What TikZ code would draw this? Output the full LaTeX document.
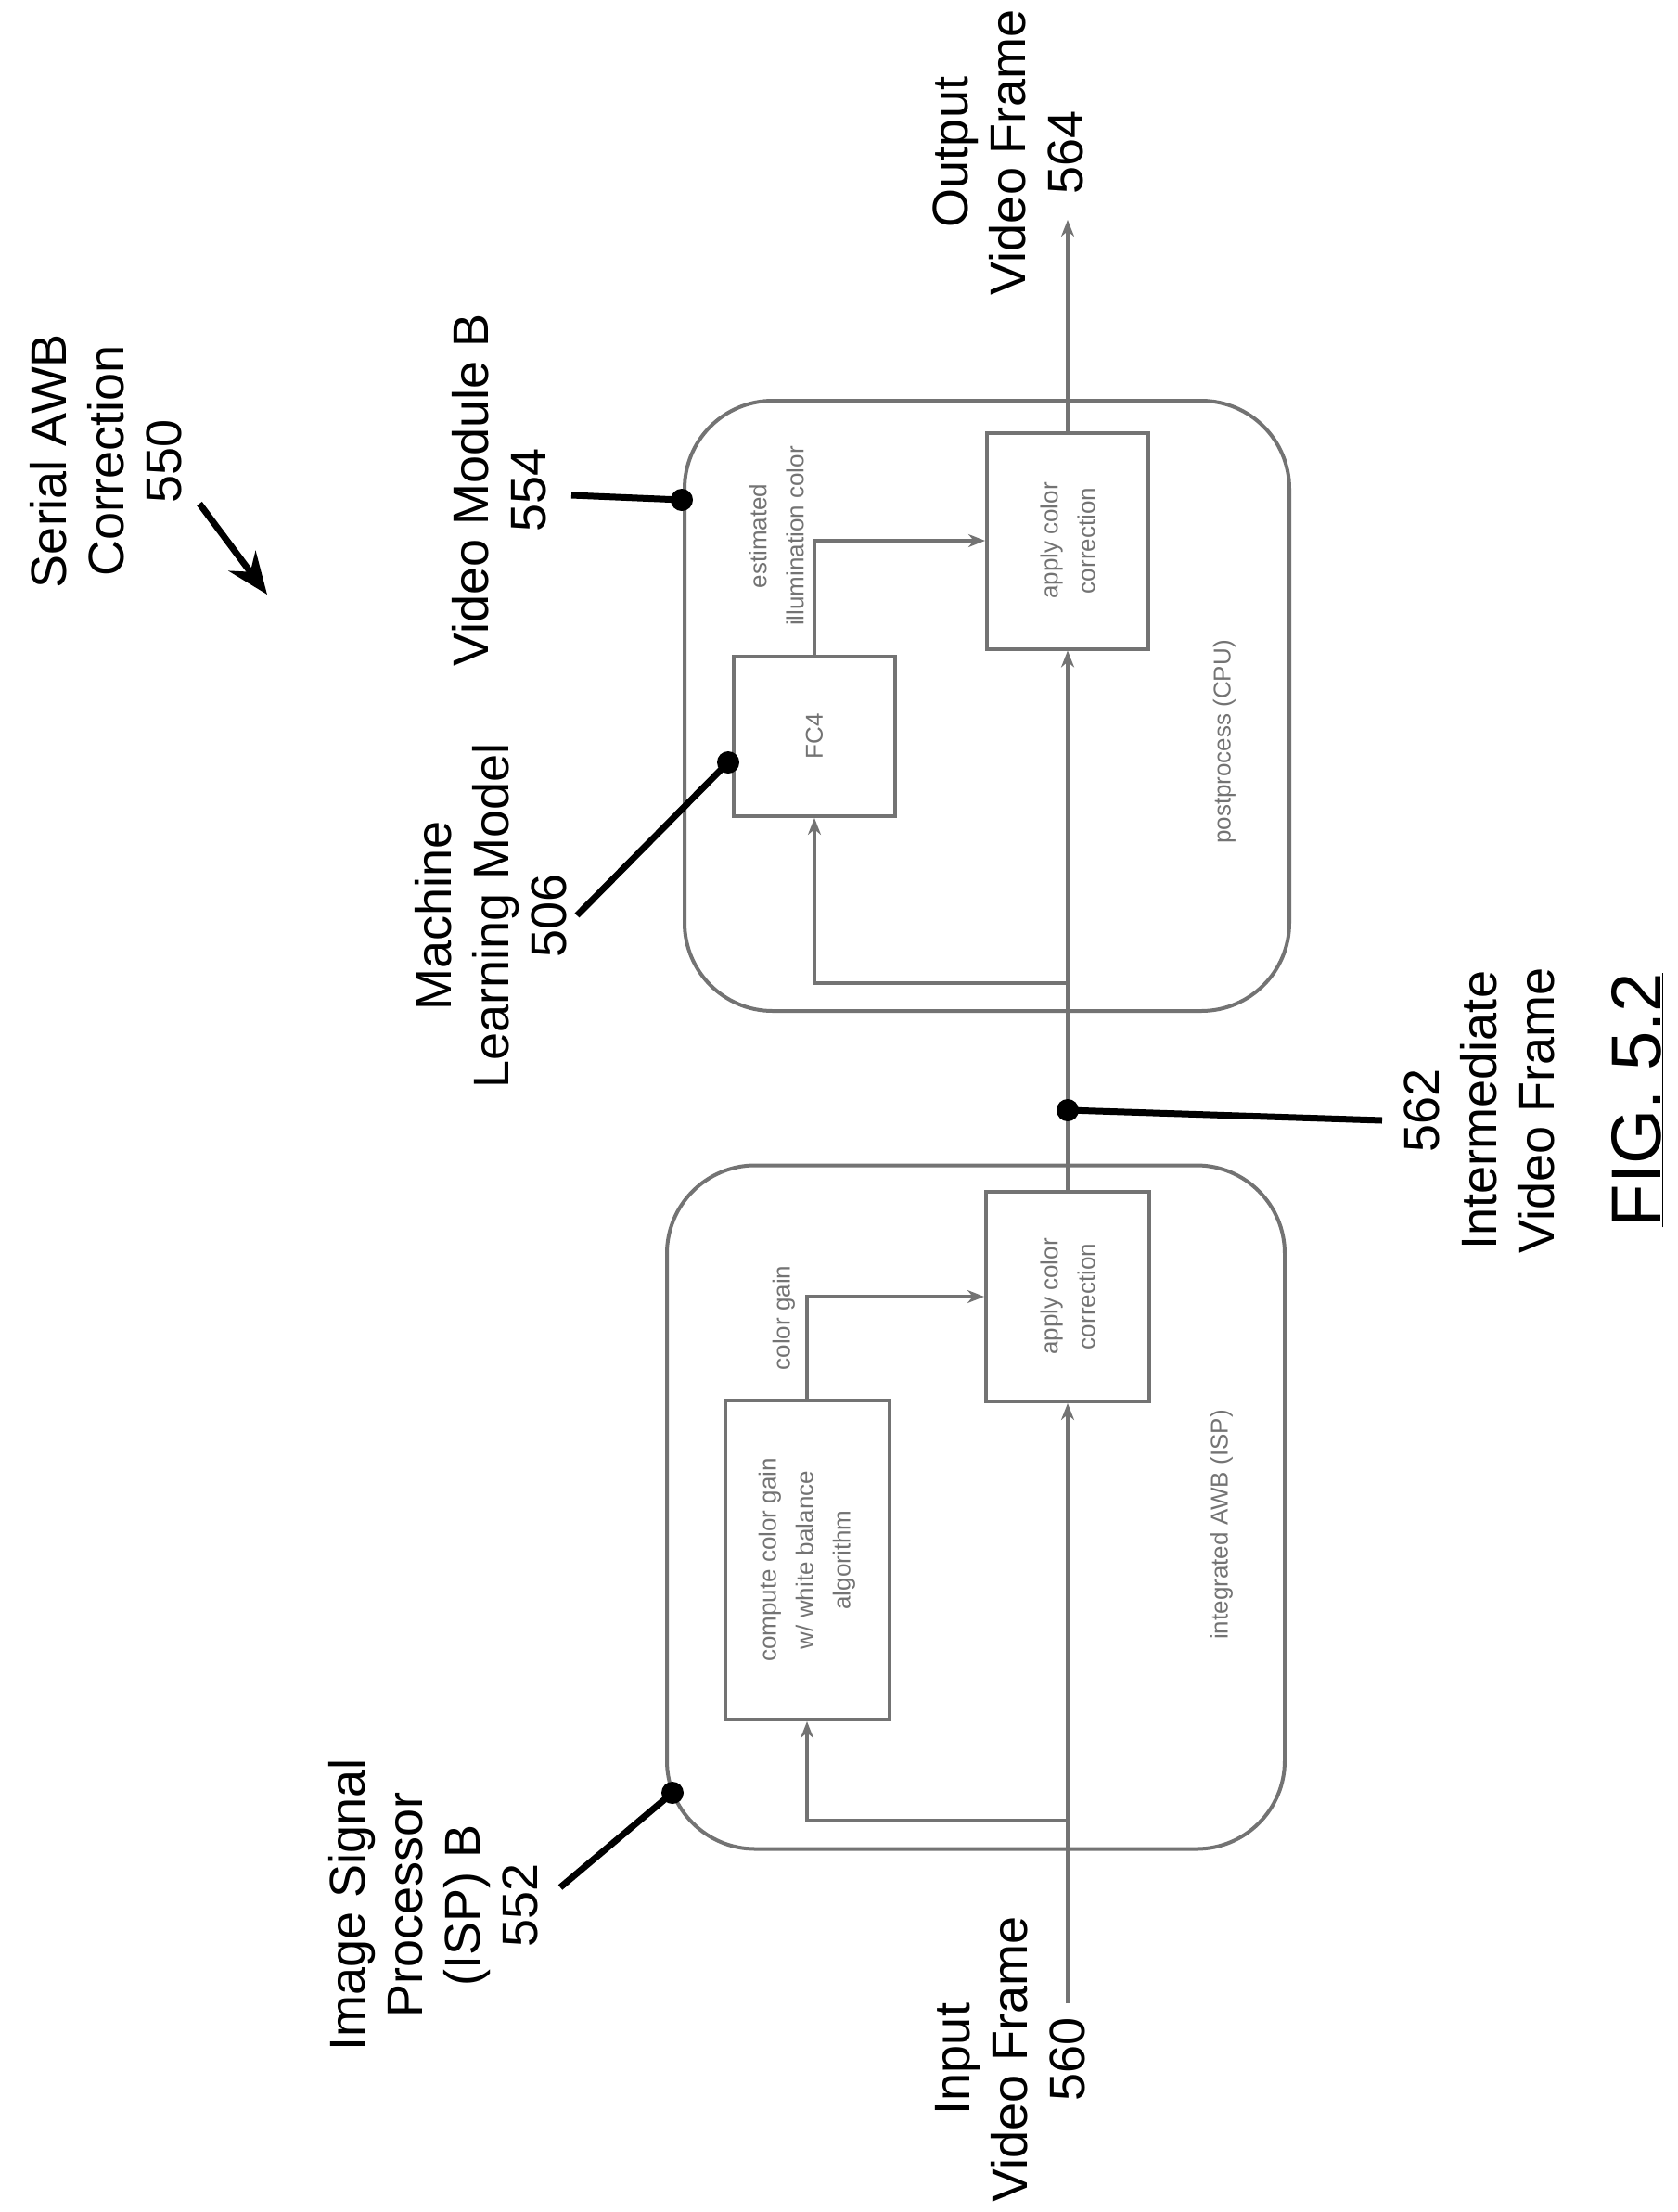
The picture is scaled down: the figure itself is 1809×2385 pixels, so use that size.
\documentclass[tikz,border=0pt]{standalone}
\usepackage{fontspec}
\setmainfont{Liberation Sans}
\usetikzlibrary{arrows.meta,positioning}

\tikzset{
  big/.style={rotate=90, align=center, font=\fontsize{54}{62}\selectfont},
  small/.style={rotate=90, align=center, text=black!55, font=\fontsize{26}{40}\selectfont},
  module/.style={draw=black!55, line width=4pt, rounded corners=95pt},
  block/.style={draw=black!55, line width=4pt},
  flow/.style={draw=black!55, line width=4pt},
  tip/.style={-{Stealth[length=18pt,width=14pt]}},
  lead/.style={line width=7pt},
  pin/.style={circle, fill=black, inner sep=0pt, minimum size=24pt}
}

\begin{document}
\begin{tikzpicture}[x=1pt, y=-1pt]
\useasboundingbox (0,0) rectangle (1809,2385);

% modules
\node[module, minimum width=666pt, minimum height=737pt] (isp) at (1052,1625) {};
\node[module, minimum width=652pt, minimum height=658pt] (vm) at (1064,761) {};

% blocks
\node[block, minimum width=177pt, minimum height=344pt] (gain) at (870,1682) {};
\node[block, minimum width=176pt, minimum height=226pt] (apply1) at (1151,1398) {};
\node[block, minimum width=174pt, minimum height=172pt] (fc4) at (878,794) {};
\node[block, minimum width=174pt, minimum height=233pt] (apply2) at (1151,583) {};

\node[small] at (gain.center) {compute color gain\\w/ white balance\\algorithm};
\node[small] at (apply1.center) {apply color\\correction};
\node[small] at (fc4.center) {FC4};
\node[small] at (apply2.center) {apply color\\correction};
\node[small] at (845,1421) {color gain};
\node[small] at (1317,1644) {integrated AWB (ISP)};
\node[small] at (837,578) {estimated\\illumination color};
\node[small] at (1320,800) {postprocess (CPU)};

% signal path
\coordinate (in) at (1151,2160);
\coordinate (mid) at (1151,1197);
\coordinate (out) at (1151,237);
\draw[flow, tip] (in) -- (apply1.south);
\draw[flow] (apply1.north) -- (mid);
\draw[flow, tip] (mid) -- (apply2.south);
\draw[flow, tip] (apply2.north) -- (out);

\draw[flow, tip] (1151,1963) -| (gain.south);
\draw[flow, tip] (gain.north) |- (apply1.west);
\draw[flow, tip] (1151,1060) -| (fc4.south);
\draw[flow, tip] (fc4.north) |- (apply2.west);

% labels
\node[big] (lin) at (1089,2220) {Input\\Video Frame\\560};
\node[big] (lout) at (1087,164) {Output\\Video Frame\\564};
\node[big] (lisp) at (467,2054) {Image Signal\\Processor\\(ISP) B\\552};
\node[big] (lml) at (529,987) {Machine\\Learning Model\\506};
\node[big] (lvm) at (538,528) {Video Module B\\554};
\node[big] (lser) at (114,497) {Serial AWB\\Correction\\550};
\node[big] (lmid) at (1595,1197) {562\\Intermediate\\Video Frame};
\node[rotate=90, font=\fontsize{76}{80}\selectfont] (fig) at (1765,1186) {\underline{FIG. 5.2}};

% leaders
\node[pin] (pisp) at (725,1933) {};
\node[pin] (pml) at (785,822) {};
\node[pin] (pvm) at (735,539) {};
\node[pin] (pmid) at (mid) {};
\coordinate (eisp) at (604,2035);
\coordinate (eml) at (622,987);
\coordinate (evm) at (616,534);
\coordinate (emid) at (1490,1208);
\draw[lead] (pisp.center) -- (eisp);
\draw[lead] (pml.center) -- (eml);
\draw[lead] (pvm.center) -- (evm);
\draw[lead] (pmid.center) -- (emid);

\coordinate (s1) at (215,543);
\coordinate (s2) at (288,641);
\draw[lead, -{Stealth[length=45pt,width=36pt]}] (s1) -- (s2);

\end{tikzpicture}
\end{document}
